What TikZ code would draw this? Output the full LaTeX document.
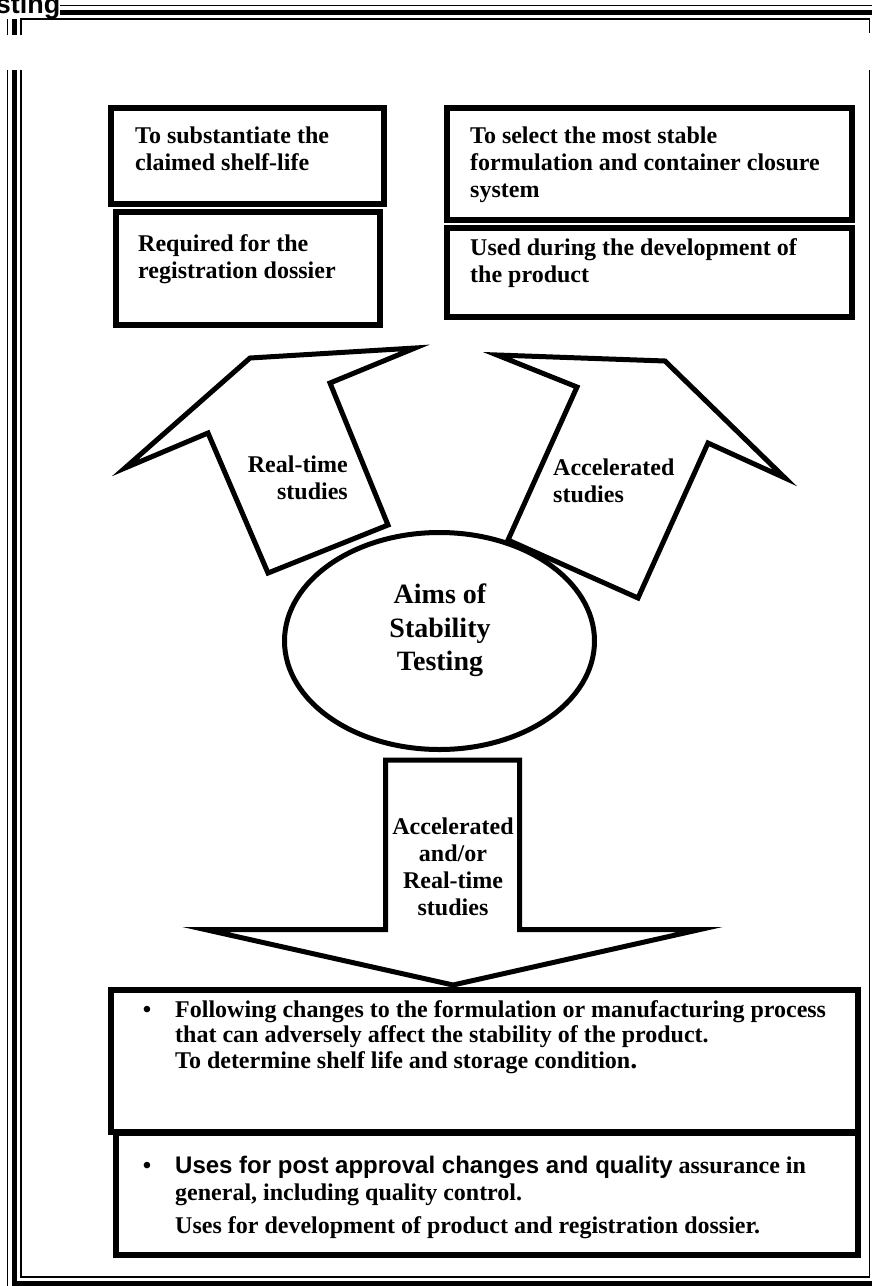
\documentclass[tikz,border=0pt]{standalone}
\usepackage{fontspec}
\setmainfont{Liberation Serif}
\newfontfamily\arialfont{Liberation Sans}
\usetikzlibrary{shapes.geometric}
\begin{document}
\begin{tikzpicture}[x=1pt,y=-1pt,
  boxline/.style={draw=black,line width=6},
  arrowshape/.style={draw=black,fill=white,line width=5,line join=miter},
  txt/.style={font=\bfseries\fontsize{24}{27}\selectfont,inner sep=0,align=left},
  btxt/.style={font=\bfseries\fontsize{24}{25}\selectfont,inner sep=0,align=left},
  bul/.style={font=\bfseries\fontsize{24}{24}\selectfont,inner sep=0}]
\useasboundingbox (0,0) rectangle (872,1286);
% page frame (outer and thick lines)
\foreach \o/\w in {6.5/4.5,13.5/1.5}{
  \draw[line width=\w] (21-\o,35) -- (21-\o,19-\o) -- (869.5+\o,19-\o) -- (869.5+\o,33);
  \draw[line width=\w] (21-\o,70) -- (21-\o,1277+\o) -- (869.5+\o,1277+\o) -- (869.5+\o,70);
}
\node[font=\arialfont\bfseries\fontsize{27}{27}\selectfont,fill=white,inner sep=0,anchor=base east] (hdr) at (60.5,13) {Testing};
% inner thin line of the frame
\draw[line width=1.5] (21,35) -- (21,19) -- (869.5,19) -- (869.5,33);
\draw[line width=1.5] (21,70) -- (21,1277) -- (869.5,1277) -- (869.5,70);
% top boxes
\draw[boxline] (111,108) rectangle (383.5,203.5);
\draw[boxline] (115.5,212) rectangle (379.5,325);
\draw[boxline] (447,108) rectangle (851.5,220);
\draw[boxline] (447,228) rectangle (851.5,317);
\node[txt,anchor=north west] (tA) at (135,126.5) {To substantiate the\\claimed shelf-life};
\node[txt,anchor=north west] (tB) at (138,234.5) {Required for the\\registration dossier};
\node[txt,anchor=north west] (tC) at (470,126.5) {To select the most stable\\formulation and container closure\\system};
\node[txt,anchor=north west] (tD) at (470,238.5) {Used during the development of\\the product};
% arrows
\draw[arrowshape] (125,468) -- (250,358) -- (415,348) -- (330,383) -- (388,525) -- (268,573) -- (208,433) -- cycle;
\draw[arrowshape] (497,355) -- (665,361) -- (785,478) -- (708,443) -- (638,598) -- (508,540) -- (577,387) -- cycle;
\node[txt,align=right,anchor=north east] (tRT) at (348,455.5) {Real-time\\studies};
\node[txt,anchor=north west] (tAC) at (553,458.5) {Accelerated\\studies};
% ellipse
\node[ellipse,draw=black,fill=white,line width=5,minimum width=310,minimum height=217,inner sep=0] (aims) at (439.5,641) {};
\node[font=\bfseries\fontsize{28}{33.5}\selectfont,align=center,inner sep=0,anchor=north] (aimsT) at (440,584) {Aims of\\Stability\\Testing};
% bottom boxes
\draw[boxline] (110.75,989.75) rectangle (858.25,1132.25);
\draw[boxline] (115.75,1132.75) rectangle (858.25,1255.25);
% down arrow
\draw[arrowshape] (385.5,760) -- (519.5,760) -- (519.5,929.5) -- (700,929.5) -- (453,985) -- (205,929.5) -- (385.5,929.5) -- cycle;
\node[txt,align=center,anchor=north] (tDown) at (453,817.5) {Accelerated\\and/or\\Real-time\\studies};
% bottom texts
\node[bul,anchor=base] (b1) at (147,1017) {•};
\node[btxt,anchor=north west] (tF) at (175,1000.5) {Following changes to the formulation or manufacturing process\\that can adversely affect the stability of the product.\\[1pt]To determine shelf life and storage condition{\fontsize{28}{25}\selectfont .}};
\node[bul,anchor=base] (b2) at (147,1173) {•};
\node[txt,anchor=north west] (tU) at (175,1155.5) {{\arialfont Uses for post approval changes and quality} assurance in\\general, including quality control.\\[6pt]Uses for development of product and registration dossier.};
\end{tikzpicture}
\end{document}
